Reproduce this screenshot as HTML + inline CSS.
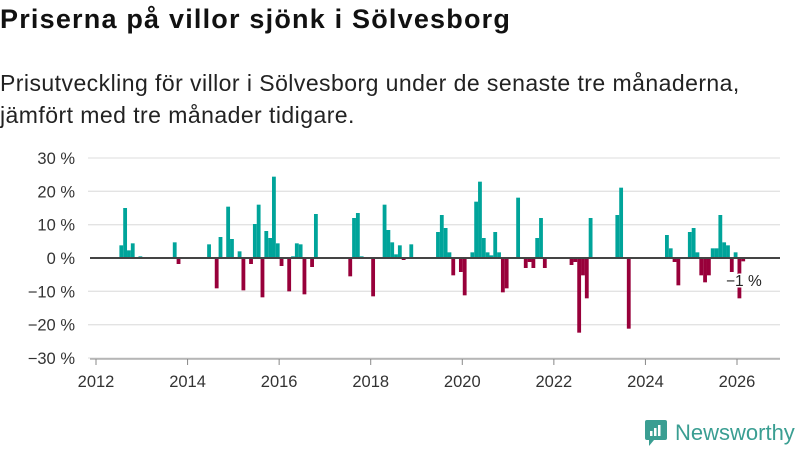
<!DOCTYPE html>
<html><head><meta charset="utf-8"><style>
body{margin:0;width:800px;height:450px;background:#fff;font-family:"Liberation Sans",sans-serif;overflow:hidden;position:relative}
h1{position:absolute;left:0;top:4px;margin:0;font-size:27px;letter-spacing:1.2px;font-weight:bold;color:#111}
.sub{position:absolute;left:0;top:67px;margin:0;font-size:23px;letter-spacing:0.45px;line-height:32px;color:#222}
svg{position:absolute;left:0;top:0}
</style></head><body>
<h1>Priserna på villor sjönk i Sölvesborg</h1>
<p class="sub">Prisutveckling för villor i Sölvesborg under de senaste tre månaderna,<br>jämfört med tre månader tidigare.</p>
<svg id="c" width="800" height="450"></svg>
<script>
const monthIdx=[6,7,8,9,11,20,21,29,31,32,34,35,37,38,40,41,42,43,44,45,46,47,48,50,51,52,53,54,56,57,66,67,68,69,72,75,76,77,78,79,80,82,89,90,91,92,93,95,96,98,99,100,101,102,103,104,105,106,107,110,112,113,114,115,116,117,124,125,126,127,128,129,136,137,139,149,150,151,152,155,156,157,158,159,160,161,162,163,164,165,166,167,168,169];
const values=[3.8,15,2.3,4.4,0.5,4.7,-1.8,4.1,-9.1,6.3,15.4,5.7,2,-9.7,-1.8,10.2,16,-11.8,8.1,6,24.4,4.4,-2.4,-10,0.5,4.4,4.1,-10.9,-2.7,13.2,-5.5,12,13.5,0.5,-11.5,16,8.4,4.7,1.1,3.8,-0.6,4.1,7.8,12.9,9,1.7,-5.2,-4.2,-11.2,1.7,16.9,22.9,6,1.7,0.8,7.8,1.7,-10.3,-9.1,18.1,-3,-1.2,-3,6,12,-3,-2.1,-1.2,-22.4,-5.2,-12.1,12,12.9,21.1,-21.2,6.9,2.9,-1.2,-8.2,7.8,9,1.7,-5.2,-7.3,-5.2,2.9,2.9,12.9,4.7,3.8,-4.2,1.7,-12.1,-1];
const yTicks=[30,20,10,0,-10,-20,-30];
const yTickLabels=["30 %","20 %","10 %","0 %","−10 %","−20 %","−30 %"];
const xTicks=[2012,2014,2016,2018,2020,2022,2024,2026];
const NS="http://www.w3.org/2000/svg";
const svg=document.getElementById('c');
const y=v=>258-v*100/30;
const mw=(737-96)/168;
const x=i=>96+i*mw;
function mk(t,a){const e=document.createElementNS(NS,t);for(const k in a)e.setAttribute(k,a[k]);svg.appendChild(e);return e;}
yTicks.forEach((t,i)=>{
 if(t!==0){const l=mk('line',{x1:88,x2:780,y1:y(t),y2:y(t),stroke:'#e3e3e3','stroke-width':1.3});
 
 }
 const tx=mk('text',{x:75,y:y(t)+6,'text-anchor':'end','font-size':16.5,fill:'#333'});
 tx.textContent=yTickLabels[i];
 
 
});
monthIdx.forEach((m,i)=>{
 const v=values[i];
 const r=mk('rect',{x:x(m)+0.5,width:mw,y:v>=0?y(v):y(0),height:Math.abs(y(v)-y(0)),fill:v>=0?'#00a49a':'#98003a'});
 
 
});
const z=mk('line',{x1:90,x2:780,y1:y(0),y2:y(0),stroke:'#444','stroke-width':2});


const ax=mk('line',{x1:90,x2:780,y1:359,y2:359,stroke:'#888','stroke-width':1});


xTicks.forEach(t=>{
 const px=x((t-2012)*12);
 const tk=mk('line',{x1:px,x2:px,y1:359,y2:365,stroke:'#888'});
 
 
 const tx=mk('text',{x:px,y:387,'text-anchor':'middle','font-size':16.5,fill:'#333'});
 tx.textContent=t;
 
 
});
const lb=mk('text',{x:726,y:286,'font-size':15.5,fill:'#222',stroke:'#fff','stroke-width':3,'paint-order':'stroke'});
lb.textContent='−1 %';


</script>
<div style="position:absolute;left:645px;top:420px;display:flex;align-items:center">
<svg width="22" height="26" viewBox="0 0 22 26" style="position:static"><path d="M0 2 Q0 0 2 0 H20 Q22 0 22 2 V18 Q22 20 20 20 H9 L4 26 V20 H2 Q0 20 0 18Z" fill="#3a9e92"/><rect x="5" y="11" width="2.5" height="5" fill="#fff"/><rect x="9" y="8" width="2.5" height="8" fill="#fff"/><rect x="13" y="5" width="2.5" height="11" fill="#fff"/></svg>
<span style="color:#3a9e92;font-size:22px;margin-left:8px">Newsworthy</span></div>
</body></html>
